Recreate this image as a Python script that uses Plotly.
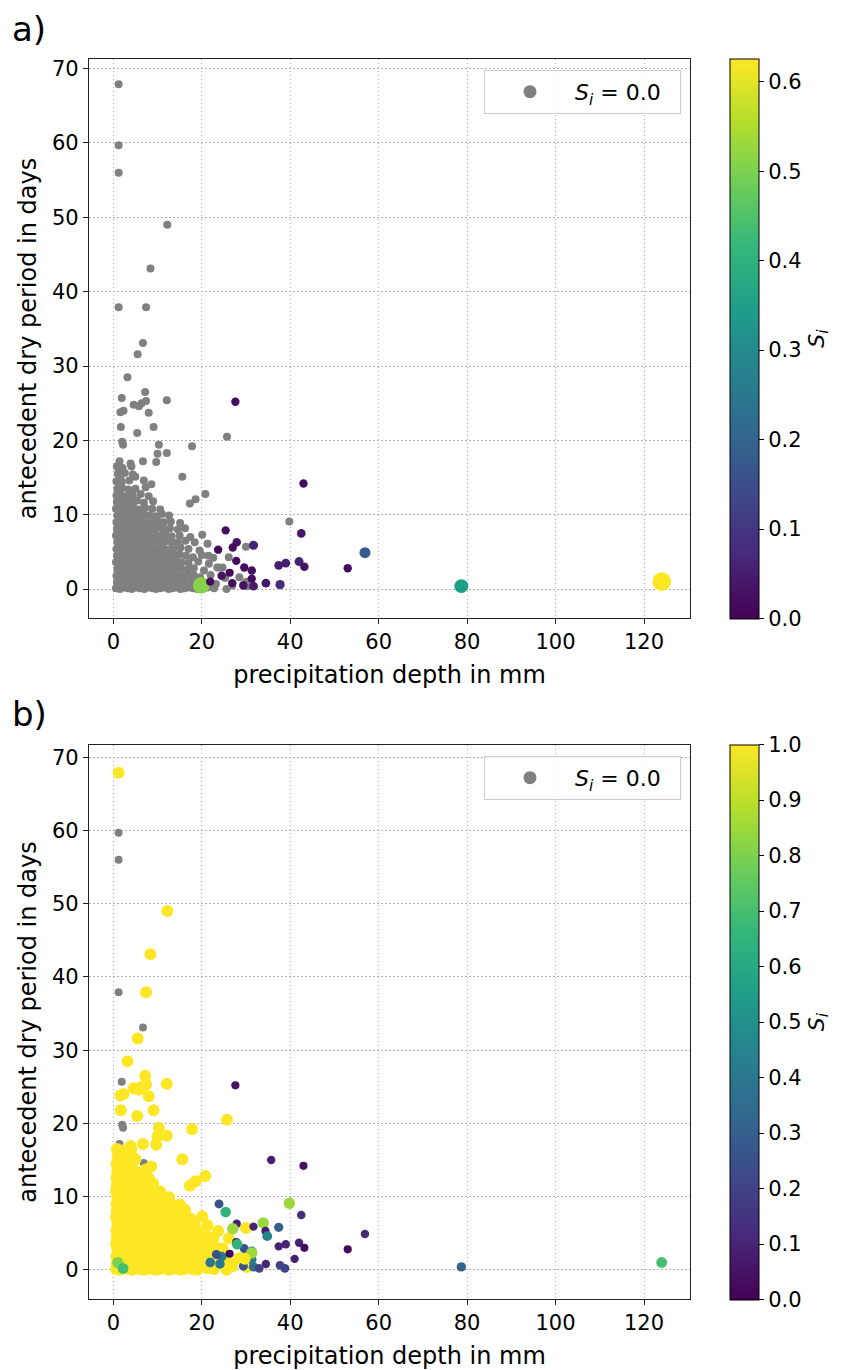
import math
import plotly.graph_objects as go

# ---------------- data ----------------
# events: S_i = 0 in panel a, S_i = 1.0 in panel b  (dense cluster + scattered)
yellow_x = [
    0.6, 1.5, 2.4, 3.3, 4.2, 5.1, 6.0, 7.0, 7.9, 8.8, 9.7, 10.6, 11.6, 12.5, 13.4, 14.3, 15.2, 16.1, 17.0, 18.0, 19.0, 21.3, 22.8, 25.6, 30.2,
    0.8, 1.9, 2.9, 3.8, 4.9, 5.7, 6.6, 7.7, 8.6, 9.5, 10.5, 11.4, 12.4, 13.3, 14.2, 15.5, 16.6, 17.6, 18.7, 23.2,
    0.7, 1.6, 2.6, 3.6, 4.4, 5.4, 6.3, 7.3, 8.2, 9.3, 10.1, 11.0, 12.1, 13.0, 14.0, 14.9, 16.0, 17.2, 18.3, 19.6, 22.0, 25.3,
    0.9, 1.8, 2.8, 3.7, 4.7, 5.6, 6.5, 7.5, 8.4, 9.4, 10.3, 11.3, 12.3, 13.2, 14.4, 15.5, 16.8, 18.2, 20.5, 23.8,
    0.6, 1.5, 2.5, 3.4, 4.3, 5.3, 6.2, 7.1, 8.0, 9.0, 10.0, 11.0, 12.0, 13.1, 14.2, 15.4, 17.0, 19.2, 21.6,
    0.8, 1.7, 2.7, 3.6, 4.6, 5.5, 6.4, 7.4, 8.4, 9.3, 10.4, 11.5, 12.6, 13.8, 15.0, 16.4, 18.0, 20.0,
    0.7, 1.6, 2.6, 3.5, 4.4, 5.3, 6.3, 7.2, 8.2, 9.2, 10.2, 11.3, 12.5, 13.6, 15.2, 17.0, 19.5, 22.6,
    0.9, 1.8, 2.7, 3.7, 4.6, 5.6, 6.6, 7.6, 8.6, 9.7, 10.8, 12.0, 13.3, 14.6, 16.3, 18.4, 21.3,
    0.6, 1.5, 2.5, 3.4, 4.4, 5.4, 6.3, 7.3, 8.4, 9.5, 10.6, 11.8, 13.2, 15.0, 17.4, 20.1,
    0.8, 1.7, 2.7, 3.6, 4.6, 5.6, 6.7, 7.8, 8.9, 10.1, 11.3, 12.8, 14.6, 16.2,
    0.7, 1.6, 2.5, 3.5, 4.5, 5.5, 6.5, 7.6, 8.8, 10.0, 11.4, 13.0, 15.1,
    0.9, 1.8, 2.8, 3.8, 4.8, 5.9, 7.0, 8.2, 9.5, 11.0, 12.6,
    0.6, 1.5, 2.5, 3.5, 4.6, 5.8, 7.2, 8.8, 10.6,
    0.8, 1.8, 2.9, 4.1, 5.4, 6.9, 9.0,
    0.7, 1.7, 3.0, 4.4, 6.2, 8.0,
    0.9, 2.0, 3.4, 5.0, 7.3,
    0.7, 1.9, 3.6,
    1.0, 2.6, 4.4,
    0.8, 2.1,
    1.2, 12.2, 8.4, 7.4, 5.5, 3.2, 7.2, 12.1, 7.4, 4.6, 5.8, 6.4, 2.3, 1.6, 8.0, 1.7, 9.1, 5.4,
    25.7, 17.8, 10.3, 10.0, 12.1, 3.9, 4.1, 6.7, 9.7, 15.6, 20.8, 18.6, 17.3, 8.6, 5.0,
    30.0, 26.1, 24.7, 28.5, 26.9, 30.1, 21.5, 23.5,
]
yellow_y = [
    0.1, 0.0, 0.2, 0.1, 0.0, 0.2, 0.1, 0.0, 0.2, 0.1, 0.0, 0.1, 0.2, 0.0, 0.1, 0.2, 0.0, 0.1, 0.2, 0.1, 0.0, 0.2, 0.1, 0.0, 0.4,
    0.9, 1.0, 0.8, 0.9, 1.1, 0.8, 1.0, 0.9, 0.8, 1.1, 0.9, 1.0, 0.8, 0.9, 1.1, 0.9, 0.8, 1.0, 0.9, 0.7,
    1.8, 1.9, 1.7, 1.8, 2.0, 1.7, 1.9, 1.8, 1.7, 2.0, 1.8, 1.9, 1.7, 1.8, 2.0, 1.8, 1.7, 1.9, 1.8, 1.6, 1.9, 1.5,
    2.7, 2.8, 2.6, 2.7, 2.9, 2.6, 2.8, 2.7, 2.6, 2.9, 2.7, 2.8, 2.6, 2.7, 2.9, 2.7, 2.6, 2.8, 2.5, 2.9,
    3.6, 3.7, 3.5, 3.6, 3.8, 3.5, 3.7, 3.6, 3.5, 3.8, 3.6, 3.7, 3.5, 3.6, 3.8, 3.6, 3.5, 3.7, 3.4,
    4.5, 4.6, 4.4, 4.5, 4.7, 4.4, 4.6, 4.5, 4.4, 4.7, 4.5, 4.6, 4.4, 4.5, 4.7, 4.5, 4.3, 4.6,
    5.4, 5.5, 5.3, 5.4, 5.6, 5.3, 5.5, 5.4, 5.3, 5.6, 5.4, 5.5, 5.3, 5.4, 5.6, 5.4, 5.2, 4.2,
    6.3, 6.4, 6.2, 6.3, 6.5, 6.2, 6.4, 6.3, 6.2, 6.5, 6.3, 6.4, 6.2, 6.3, 6.5, 6.3, 6.1,
    7.2, 7.3, 7.1, 7.2, 7.4, 7.1, 7.3, 7.2, 7.1, 7.4, 7.2, 7.3, 7.1, 7.2, 7.0, 7.3,
    8.1, 8.2, 8.0, 8.1, 8.3, 8.0, 8.2, 8.1, 8.0, 8.3, 8.1, 8.2, 8.0, 8.2,
    9.0, 9.1, 8.9, 9.0, 9.2, 8.9, 9.1, 9.0, 8.9, 9.2, 9.0, 9.1, 8.9,
    9.9, 10.0, 9.8, 9.9, 10.1, 9.8, 10.0, 9.9, 9.8, 10.1, 9.9,
    10.8, 10.9, 10.7, 10.8, 11.0, 10.7, 10.9, 10.8, 10.7,
    11.7, 11.8, 11.6, 11.7, 11.9, 11.6, 11.8,
    12.6, 12.7, 12.5, 12.6, 12.8, 12.5,
    13.5, 13.6, 13.4, 13.5, 13.7,
    14.5, 14.4, 14.6,
    15.5, 15.6, 15.4,
    16.5, 16.3,
    67.9, 49.0, 43.1, 37.9, 31.6, 28.5, 26.5, 25.4, 25.3, 24.8, 24.6, 25.0, 24.0, 23.8, 23.7, 21.8, 21.8, 21.0,
    20.5, 19.2, 19.4, 18.2, 18.3, 16.9, 16.5, 17.2, 17.1, 15.1, 12.8, 12.1, 11.5, 14.1, 15.1,
    5.7, 4.3, 2.9, 1.6, 0.5, 1.0, 4.5, 2.9,
]

# events with S_i = 0 in both panels
gray_x = [1.2, 1.2, 1.2, 6.7, 1.9, 2.0, 2.2, 1.4, 1.7, 6.9]
gray_y = [59.7, 56.0, 37.9, 33.1, 25.7, 19.8, 19.4, 17.2, 14.7, 14.6]

# remaining events: S_i in panel a (nan = not shown) and in panel b
mixed_x = [27.6, 43.0, 42.5, 25.4, 27.9, 27.0, 31.7, 23.7, 27.8, 29.6, 31.3, 37.4, 39.0, 42.0, 43.2,
           53.0, 56.9, 19.9, 21.9, 24.5, 26.3, 26.9, 29.4, 31.7, 34.5, 37.7, 31.3, 78.7, 124.0, 39.8,
           35.7, 23.9, 33.9, 34.4, 34.8, 37.4, 41.0, 38.8, 33.0, 28.0, 31.3, 23.3, 24.1, 29.7, 1.0, 2.2]
mixed_y = [25.2, 14.2, 7.5, 7.9, 6.3, 5.6, 5.9, 5.3, 3.8, 2.9, 2.5, 3.2, 3.5, 3.7, 3.0,
           2.8, 4.9, 0.5, 1.0, 1.8, 2.2, 0.8, 0.5, 0.4, 0.8, 0.6, 1.4, 0.4, 1.0, 9.1,
           15.0, 9.0, 6.4, 5.3, 4.6, 5.8, 1.5, 0.2, 0.2, 3.5, 2.3, 2.1, 0.8, 1.5, 1.0, 0.2]
nan = float("nan")
mixed_si_a = [0.02, 0.02, 0.04, 0.02, 0.03, 0.02, 0.06, 0.02, 0.02, 0.02, 0.03, 0.05, 0.05, 0.06, 0.03,
              0.02, 0.18, 0.51, 0.02, 0.03, 0.01, 0.02, 0.03, 0.05, 0.04, 0.08, 0.02, 0.35, 0.63, 0.0,
              nan, nan, nan, nan, nan, nan, nan, nan, nan, nan, nan, nan, nan, nan, nan, nan]
mixed_si_b = [0.05, 0.04, 0.13, 0.65, 0.08, 0.85, 0.10, 1.0, 0.05, 0.25, 0.45, 0.10, 0.10, 0.09, 0.03,
              0.03, 0.12, 1.0, 0.40, 0.42, 0.03, 1.0, 0.25, 0.35, 0.10, 0.20, 0.40, 0.33, 0.70, 0.85,
              0.08, 0.25, 0.85, 0.08, 0.45, 0.30, 0.08, 0.20, 0.20, 0.65, 0.85, 0.25, 0.40, 1.0, 0.80, 0.70]

SI_MAX_A = 0.626
SI_MAX_B = 1.0
x_ticks = [0, 20, 40, 60, 80, 100, 120]
y_ticks = [0, 10, 20, 30, 40, 50, 60, 70]

# ---------------- assemble ----------------
W, H = 843, 1370
FONT = "DejaVu Sans"

def isnum(v):
    return not (isinstance(v, float) and math.isnan(v))

# panel a
a_gray_x = yellow_x + gray_x + [x for x, s in zip(mixed_x, mixed_si_a) if isnum(s) and s == 0]
a_gray_y = yellow_y + gray_y + [y for y, s in zip(mixed_y, mixed_si_a) if isnum(s) and s == 0]
a_col = [(x, y, s) for x, y, s in zip(mixed_x, mixed_y, mixed_si_a) if isnum(s) and s > 0]

# panel b
b_gray_x = gray_x + [x for x, s in zip(mixed_x, mixed_si_b) if s == 0]
b_gray_y = gray_y + [y for y, s in zip(mixed_y, mixed_si_b) if s == 0]
b_col = [(x, y, 1.0) for x, y in zip(yellow_x, yellow_y)] + \
        [(x, y, s) for x, y, s in zip(mixed_x, mixed_y, mixed_si_b) if s > 0]

fig = go.Figure()
legend_name = "<i>S<sub>i</sub></i> = 0.0&nbsp;&nbsp;"
GRAY = "#808080"

fig.add_trace(go.Scatter(x=a_gray_x, y=a_gray_y, mode="markers", xaxis="x", yaxis="y",
                         marker=dict(color=GRAY, size=8, opacity=1, line=dict(width=0)),
                         showlegend=False))
fig.add_trace(go.Scatter(x=[p[0] for p in a_col], y=[p[1] for p in a_col], mode="markers",
                         xaxis="x", yaxis="y", showlegend=False,
                         marker=dict(color=[p[2] for p in a_col], coloraxis="coloraxis",
                                     size=[8 + 17 * p[2] for p in a_col], line=dict(width=0), opacity=1)))
fig.add_trace(go.Scatter(x=b_gray_x, y=b_gray_y, mode="markers", xaxis="x2", yaxis="y2",
                         marker=dict(color=GRAY, size=8, opacity=1, line=dict(width=0)),
                         showlegend=False))
fig.add_trace(go.Scatter(x=[p[0] for p in b_col], y=[p[1] for p in b_col], mode="markers",
                         xaxis="x2", yaxis="y2", showlegend=False,
                         marker=dict(color=[p[2] for p in b_col], coloraxis="coloraxis2",
                                     size=[8 + 4 * p[2] for p in b_col], line=dict(width=0), opacity=1)))
# legend entries (legend-only, no data)
for lg, xa, ya in (("legend", "x", "y"), ("legend2", "x2", "y2")):
    fig.add_trace(go.Scatter(x=[None], y=[None], mode="markers", xaxis=xa, yaxis=ya,
                             marker=dict(color=GRAY, size=13, line=dict(width=0)),
                             name=legend_name, legend=lg, showlegend=True))

# geometry (pixels)
PL, PR = 89, 690
A_T, A_B = 57, 617
B_T, B_B = 744, 1299
CB_X = 730

def fy(px):
    return 1 - px / H

axis_common = dict(
    showgrid=True, gridcolor="#b0b0b0", griddash="1.5px,2.5px", gridwidth=1,
    zeroline=False, showline=True, mirror=True, linecolor="#222222", linewidth=1.3,
    ticks="outside", ticklen=5, tickwidth=1.2, tickcolor="#222222",
    tickfont=dict(size=21, color="black", family=FONT),
)

def cbar(t, b):
    return dict(
        x=CB_X / W, xanchor="left", xpad=0, ypad=0,
        y=fy((t + b) / 2), yanchor="middle", len=b - t, lenmode="pixels",
        thickness=29, outlinewidth=1, outlinecolor="black",
        ticks="outside", ticklen=5, tickwidth=1, tickcolor="black",
        tick0=0, dtick=0.1, tickformat=".1f",
        tickfont=dict(size=21, color="black", family=FONT),
        title=dict(text="<i>S<sub>i</sub></i>", side="right", font=dict(size=22, color="black", family=FONT)),
    )

legend_common = dict(
    xanchor="right", yanchor="top", bordercolor="#cccccc", borderwidth=1,
    bgcolor="rgba(255,255,255,0.8)", font=dict(size=22, color="black", family=FONT),
    itemwidth=80,
)

fig.update_layout(
    width=W, height=H, margin=dict(l=0, r=0, t=0, b=0),
    paper_bgcolor="white", plot_bgcolor="white",
    font=dict(family=FONT, color="black"),
    xaxis=dict(domain=[PL / W, PR / W], anchor="y", range=[-5.5, 130.4], tickvals=x_ticks,
               title=dict(text="precipitation depth in mm", font=dict(size=24), standoff=12), **axis_common),
    yaxis=dict(domain=[fy(A_B), fy(A_T)], anchor="x", range=[-3.9, 71.3], tickvals=y_ticks,
               title=dict(text="antecedent dry period in days", font=dict(size=24), standoff=8), **axis_common),
    xaxis2=dict(domain=[PL / W, PR / W], anchor="y2", range=[-5.5, 130.4], tickvals=x_ticks,
                title=dict(text="precipitation depth in mm", font=dict(size=24), standoff=12), **axis_common),
    yaxis2=dict(domain=[fy(B_B), fy(B_T)], anchor="x2", range=[-4.0, 71.7], tickvals=y_ticks,
                title=dict(text="antecedent dry period in days", font=dict(size=24), standoff=8), **axis_common),
    coloraxis=dict(colorscale="Viridis", cmin=0, cmax=SI_MAX_A, colorbar=cbar(A_T, A_B)),
    coloraxis2=dict(colorscale="Viridis", cmin=0, cmax=SI_MAX_B, colorbar=cbar(B_T, B_B)),
    legend=dict(x=681 / W, y=fy(68), **legend_common),
    legend2=dict(x=681 / W, y=fy(755), **legend_common),
    annotations=[
        dict(text="a)", x=10 / W, y=fy(27), xref="paper", yref="paper", xanchor="left", yanchor="middle",
             showarrow=False, font=dict(size=34, color="black", family=FONT)),
        dict(text="b)", x=10 / W, y=fy(713), xref="paper", yref="paper", xanchor="left", yanchor="middle",
             showarrow=False, font=dict(size=34, color="black", family=FONT)),
    ],
)

fig.write_html("out.html")
